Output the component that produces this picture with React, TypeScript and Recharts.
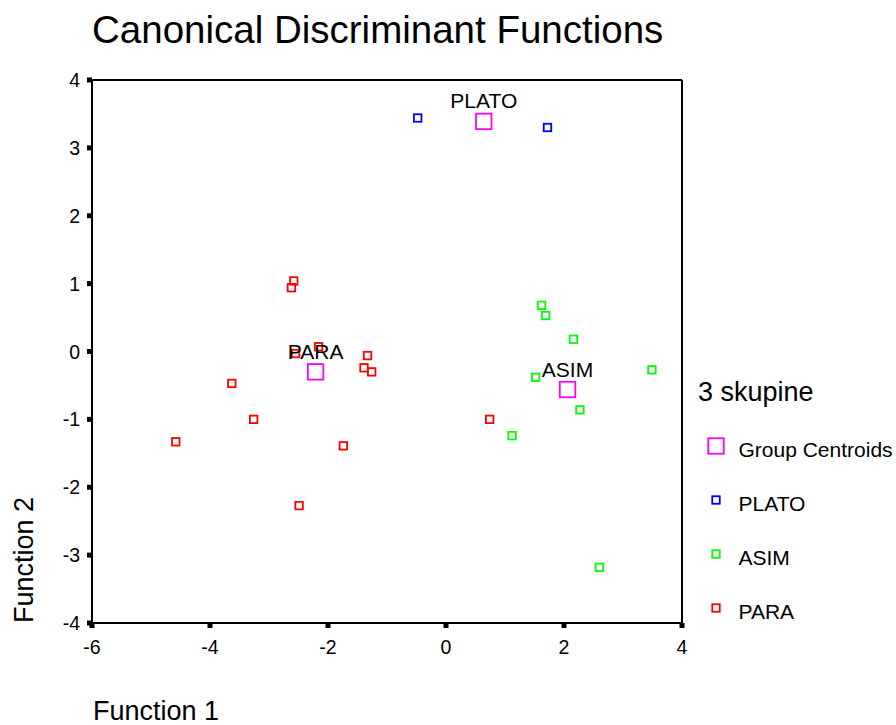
import React from 'react';
import { ScatterChart, Scatter, XAxis, YAxis, ReferenceLine, Legend, Label } from 'recharts';

const FONT = '"Liberation Sans", Arial, sans-serif';

// discriminant scores (Function 1, Function 2)
const platoPoints = [
  { x: -0.48, y: 3.44 },
  { x: 1.72, y: 3.3 },
];

const asimPoints = [
  { x: 1.62, y: 0.68 },
  { x: 1.69, y: 0.53 },
  { x: 2.16, y: 0.18 },
  { x: 3.49, y: -0.27 },
  { x: 1.52, y: -0.38 },
  { x: 2.27, y: -0.86 },
  { x: 1.12, y: -1.24 },
  { x: 2.6, y: -3.18 },
];

const paraPoints = [
  { x: -2.58, y: 1.04 },
  { x: -2.62, y: 0.94 },
  { x: -2.55, y: -0.03 },
  { x: -2.16, y: 0.07 },
  { x: -1.33, y: -0.06 },
  { x: -1.39, y: -0.24 },
  { x: -1.26, y: -0.3 },
  { x: -3.63, y: -0.47 },
  { x: -3.26, y: -1.0 },
  { x: -4.58, y: -1.33 },
  { x: -1.74, y: -1.39 },
  { x: -2.49, y: -2.27 },
  { x: 0.74, y: -1.0 },
];

const centroids = [
  { name: 'PLATO', x: 0.64, y: 3.39 },
  { name: 'ASIM', x: 2.06, y: -0.56 },
  { name: 'PARA', x: -2.21, y: -0.3 },
];

const xTicks = [-6, -4, -2, 0, 2, 4];
const yTicks = [-4, -3, -2, -1, 0, 1, 2, 3, 4];

const legendItems = [
  { label: 'Group Centroids', color: '#ff00ff', size: 15.5 },
  { label: 'PLATO', color: '#0000ff', size: 7.5 },
  { label: 'ASIM', color: '#00ff00', size: 7.5 },
  { label: 'PARA', color: '#ff0000', size: 7.5 },
];

const squareShape = (color: string, size: number, withLabel = false) => (props: any) => {
  const { cx, cy, payload } = props;
  return (
    <g>
      <rect
        x={cx - size / 2}
        y={cy - size / 2}
        width={size}
        height={size}
        fill="none"
        stroke={color}
        strokeWidth={1.8}
      />
      {withLabel && (
        <text x={cx} y={cy - 13} textAnchor="middle" fontSize={21} fontFamily={FONT} fill="#000">
          {payload.name}
        </text>
      )}
    </g>
  );
};

const XTick = (props: any) => {
  const { x, y, payload } = props;
  return (
    <text x={x} y={y + 14} textAnchor="middle" fontSize={19.5} fontFamily={FONT} fill="#000">
      {payload.value}
    </text>
  );
};

const YTick = (props: any) => {
  const { x, y, payload } = props;
  return (
    <text x={x} y={y + 7} textAnchor="end" fontSize={19.5} fontFamily={FONT} fill="#000">
      {payload.value}
    </text>
  );
};

const renderLegend = () => (
  <svg width={206} height={280}>
    <text x={8} y={41} fontSize={27} fontFamily={FONT} fill="#000">
      3 skupine
    </text>
    {legendItems.map((item, i) => {
      const cy = 86 + i * 54;
      return (
        <g key={item.label}>
          <rect
            x={26 - item.size / 2}
            y={cy - item.size / 2}
            width={item.size}
            height={item.size}
            fill="none"
            stroke={item.color}
            strokeWidth={1.8}
          />
          <text x={48.5} y={cy + 10.5} fontSize={21} fontFamily={FONT} fill="#000">
            {item.label}
          </text>
        </g>
      );
    })}
  </svg>
);

export default function App() {
  return (
    <div style={{ position: 'absolute', left: 0, top: 0, width: 896, height: 725, background: '#fff' }}>
      <div
        style={{
          position: 'absolute',
          left: 92,
          top: 11,
          fontFamily: FONT,
          fontSize: 38.5,
          lineHeight: '38px',
          color: '#000',
          whiteSpace: 'nowrap',
        }}
      >
        Canonical Discriminant Functions
      </div>
      <ScatterChart width={896} height={725} margin={{ top: 80, right: 214, bottom: 0, left: 0 }}>
        <XAxis
          type="number"
          dataKey="x"
          domain={[-6, 4]}
          ticks={xTicks}
          interval={0}
          height={102}
          axisLine={{ stroke: '#000', strokeWidth: 2 }}
          tickLine={{ stroke: '#000', strokeWidth: 5 }}
          tickSize={5}
          tickMargin={12}
          tick={<XTick />}
        >
          <Label
            content={(p: any) => (
              <text x={p.viewBox.x + 1} y={p.viewBox.y + 97} fontSize={27} fontFamily={FONT} fill="#000">
                Function 1
              </text>
            )}
          />
        </XAxis>
        <YAxis
          type="number"
          dataKey="y"
          domain={[-4, 4]}
          ticks={yTicks}
          interval={0}
          width={92}
          axisLine={{ stroke: '#000', strokeWidth: 2 }}
          tickLine={{ stroke: '#000', strokeWidth: 5 }}
          tickSize={5}
          tickMargin={7}
          tick={<YTick />}
        >
          <Label
            content={(p: any) => {
              const x = p.viewBox.x + 33;
              const y = p.viewBox.y + 480;
              return (
                <text
                  x={x}
                  y={y}
                  transform={`rotate(-90, ${x}, ${y})`}
                  textAnchor="middle"
                  fontSize={27}
                  fontFamily={FONT}
                  fill="#000"
                >
                  Function 2
                </text>
              );
            }}
          />
        </YAxis>
        <ReferenceLine y={4} stroke="#000" strokeWidth={2} />
        <ReferenceLine x={4} stroke="#000" strokeWidth={2} />
        <Legend
          layout="horizontal"
          align="center"
          verticalAlign="middle"
          width={206}
          content={renderLegend}
          wrapperStyle={{ position: 'absolute', left: 690, top: 360, width: 206, height: 280 }}
        />
        <Scatter name="PLATO" data={platoPoints} shape={squareShape('#0000ff', 7.5)} isAnimationActive={false} />
        <Scatter name="ASIM" data={asimPoints} shape={squareShape('#00ff00', 7.5)} isAnimationActive={false} />
        <Scatter name="PARA" data={paraPoints} shape={squareShape('#ff0000', 7.5)} isAnimationActive={false} />
        <Scatter
          name="Group Centroids"
          data={centroids}
          shape={squareShape('#ff00ff', 15.5, true)}
          isAnimationActive={false}
        />
      </ScatterChart>
    </div>
  );
}
